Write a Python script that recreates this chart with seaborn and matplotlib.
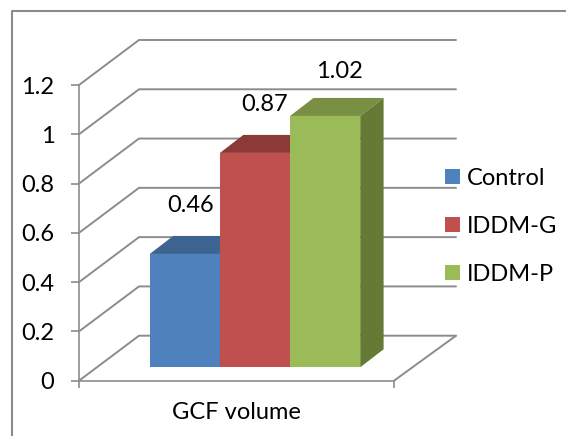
import matplotlib
matplotlib.use('Agg')
import matplotlib.pyplot as plt
import pandas as pd
import seaborn as sns
from matplotlib.lines import Line2D
from matplotlib.patches import Polygon

groups = ['Control', 'IDDM-G', 'IDDM-P']
values = [0.46, 0.87, 1.02]
measure = ['GCF volume', 'GCF volume', 'GCF volume']
y_ticks = [0, 0.2, 0.4, 0.6, 0.8, 1, 1.2]
y_labels = ['0', '0.2', '0.4', '0.6', '0.8', '1', '1.2']
front_colors = ['#4F81BD', '#C0504D', '#9BBB59']
top_colors = ['#3D6391', '#8C3A38', '#788F44']
side_colors = ['#3D6391', '#8C3A38', '#667A36']

W, H = 566, 436
GRID = '#8C8C8C'
FONT = 'Lato'
FS = 17

sns.set_theme(style='white')
plt.rcParams['font.family'] = [FONT, 'DejaVu Sans']
plt.rcParams['text.color'] = '#000000'

df = pd.DataFrame({'measure': measure, 'group': groups, 'value': values})

fig = plt.figure(figsize=(W / 100, H / 100), dpi=100, facecolor='white')


def box(left, top, right, bottom):
    return [left / W, 1 - bottom / H, (right - left) / W, (bottom - top) / H]


# front plane of the chart, holds the axes and the walls
ax = fig.add_axes(box(79, 85, 394, 380.7))
ax.set_xlim(0, 1)
ax.set_ylim(0, 1.2)
ax.patch.set_alpha(0)
sns.despine(ax=ax, top=True, right=True)
for side in ['left', 'bottom']:
    ax.spines[side].set_color(GRID)
    ax.spines[side].set_linewidth(1.2)

ax.set_yticks(y_ticks)
ax.set_yticklabels(y_labels, fontsize=FS, color='black')
ax.tick_params(axis='y', left=True, length=5.8, width=1.2, color=GRID, pad=12)
ax.set_xticks([0.5])
ax.set_xticklabels(['GCF volume'], fontsize=FS, color='black')
ax.set_xticks([0, 1], minor=True)
ax.tick_params(axis='x', which='major', length=0, pad=15)
ax.tick_params(axis='x', which='minor', bottom=True, length=5, width=1.2, color=GRID)

# walls, in data units so they follow the scales
depth_x = 60 / 315
depth_y = 45 / 246.4
back_end = 377 / 315
for v in y_ticks:
    ax.plot([0, depth_x, back_end], [v, v + depth_y, v + depth_y],
            color=GRID, lw=1.4, clip_on=False, solid_joinstyle='miter')
ax.plot([1, back_end], [0, depth_y], color=GRID, lw=1.4, clip_on=False)

# bars sit on a plane set back from the front one
bx = fig.add_axes(box(97.5, 71.6, 412.5, 367.3))
bx.patch.set_alpha(0)
sns.barplot(data=df, x='measure', y='value', hue='group', hue_order=groups,
            palette=front_colors, saturation=1, width=0.668, gap=0,
            linewidth=0, ax=bx)
bx.set_xlim(-0.5, 0.5)
bx.set_ylim(0, 1.2)
bx.axis('off')

bar_dx = 23.4 / 315
bar_dy = 18 / 246.4
label_shift = [(5.7, 48), (10, 48), (14, 44)]
bars = [p for c in bx.containers for p in c]
for i, bar in enumerate(bars):
    x0 = bar.get_x()
    x1 = x0 + bar.get_width()
    h = bar.get_height()
    bar.set_zorder(3 + i)
    bx.add_patch(Polygon([(x0, h), (x1, h), (x1 + bar_dx, h + bar_dy), (x0 + bar_dx, h + bar_dy)],
                         closed=True, fc=top_colors[i], ec='none', zorder=3 + i, clip_on=False))
    bx.add_patch(Polygon([(x1, 0), (x1 + bar_dx, bar_dy), (x1 + bar_dx, h + bar_dy), (x1, h)],
                         closed=True, fc=side_colors[i], ec='none', zorder=3 + i, clip_on=False))
    sx, sy = label_shift[i]
    bx.annotate(str(values[i]), ((x0 + x1) / 2, h), xytext=(sx * 0.72, sy * 0.72),
                textcoords='offset points', ha='center', va='center',
                fontsize=FS, color='black', zorder=10, annotation_clip=False)

px = FS * 100 / 72
bx.legend(loc='upper left', bbox_to_anchor=(445 / W, 1 - 168 / H), bbox_transform=fig.transFigure,
          frameon=False, borderpad=0, borderaxespad=0, fontsize=FS, labelcolor='black',
          handlelength=15 / px, handleheight=15 / px, handletextpad=6.5 / px,
          labelspacing=(48 - 21) / px)

# picture frame, only left and top fall inside the image
fig.add_artist(Line2D([12 / W, 12 / W, 1], [0, 1 - 11 / H, 1 - 11 / H], color=GRID, lw=1.5))

fig.savefig('out.png', dpi=100)
